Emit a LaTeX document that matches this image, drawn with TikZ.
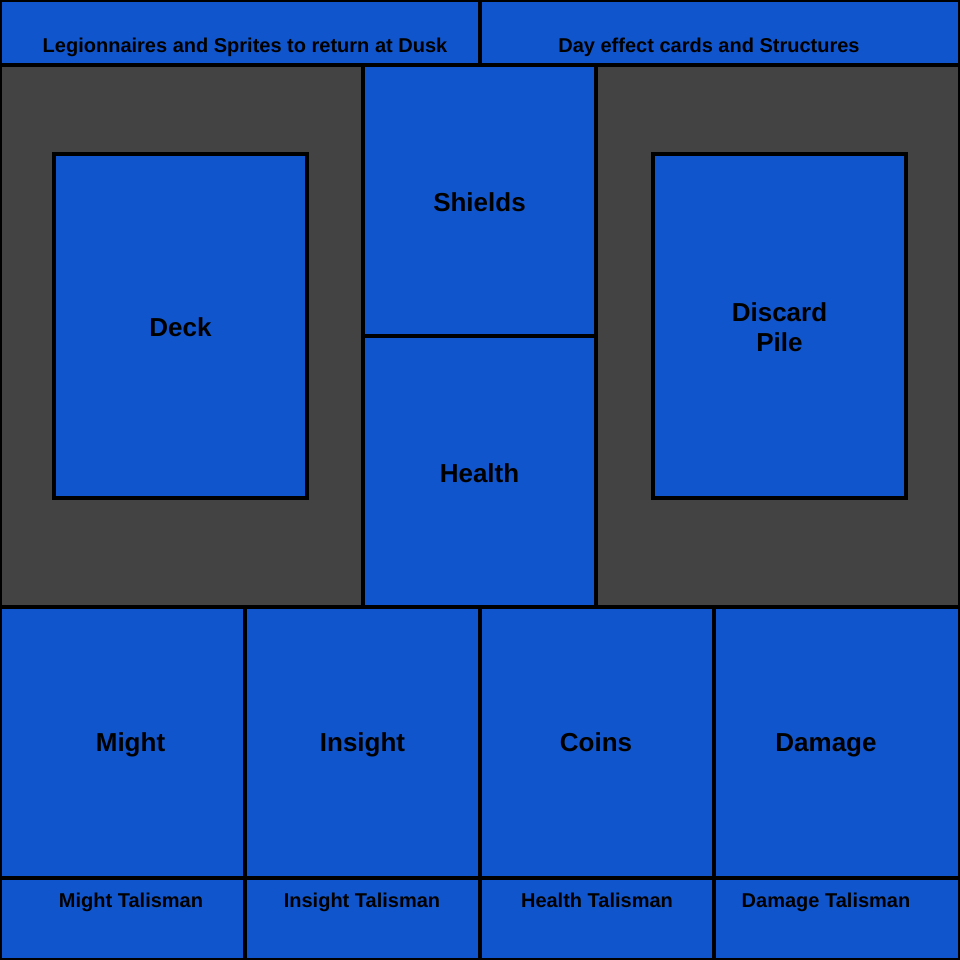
\documentclass[tikz,border=0pt]{standalone}
\usepackage{fontspec}
\setmainfont{Liberation Sans}
\usetikzlibrary{positioning}
\definecolor{boardblue}{HTML}{1155CC}
\definecolor{boardgray}{HTML}{434343}
\tikzset{
  zone/.style={
    draw=black,
    line width=3.2pt,
    fill=boardblue,
    anchor=north west,
    inner sep=0pt,
    outer sep=0pt
  },
  mat/.style={
    zone,
    fill=boardgray
  },
  big/.style={
    text=black,
    font=\bfseries\fontsize{26}{30}\selectfont,
    align=center
  },
  even/.style={
    text height=0.73em,
    text depth=0.21em
  },
  small/.style={
    even,
    text=black,
    font=\bfseries\fontsize{20}{24}\selectfont
  }
}
\begin{document}
\begin{tikzpicture}[x=1pt,y=-1pt]
  \useasboundingbox (0,0) rectangle (960,960);

  % top strip
  \node[zone, minimum width=480pt, minimum height=65pt] (legion) at (0,0) {};
  \node[zone, minimum width=480pt, minimum height=65pt] (dayfx) at (480,0) {};
  \node[small] (legiontext) at (245,50) {Legionnaires and Sprites to return at Dusk};
  \node[small] (dayfxtext) at (709,50) {Day effect cards and Structures};

  % play mats
  \node[mat, minimum width=363pt, minimum height=542pt] (leftmat) at (0,65) {};
  \node[mat, minimum width=364pt, minimum height=542pt] (rightmat) at (596,65) {};
  \node[zone, minimum width=253pt, minimum height=344pt] (deck) at (54,154) {};
  \node[zone, minimum width=253pt, minimum height=344pt] (discard) at (653,154) {};
  \node[big] (decktext) at ([yshift=-1pt]deck.center) {Deck};
  \node[big] (discardtext) at ([yshift=-1pt]discard.center) {Discard\\Pile};

  % centre column
  \node[zone, minimum width=233pt, minimum height=271pt] (shields) at (363,65) {};
  \node[zone, minimum width=233pt, minimum height=271pt] (health) at (363,336) {};
  \node[big] (shieldstext) at ([yshift=-1.5pt]shields.center) {Shields};
  \node[big] (healthtext) at ([yshift=-1.5pt]health.center) {Health};

  % resources
  \node[zone, minimum width=245pt, minimum height=271pt] (might) at (0,607) {};
  \node[zone, minimum width=235pt, minimum height=271pt] (insight) at (245,607) {};
  \node[zone, minimum width=234pt, minimum height=271pt] (coins) at (480,607) {};
  \node[zone, minimum width=246pt, minimum height=271pt] (damage) at (714,607) {};
  \node[big, even] (mighttext) at ([xshift=8pt,yshift=-6pt]might.center) {Might};
  \node[big, even] (insighttext) at ([yshift=-6pt]insight.center) {Insight};
  \node[big, even] (coinstext) at ([xshift=-1pt,yshift=-6pt]coins.center) {Coins};
  \node[big, even] (damagetext) at ([xshift=-11pt,yshift=-6pt]damage.center) {Damage};

  % talismans
  \node[zone, minimum width=245pt, minimum height=82pt] (mighttal) at (0,878) {};
  \node[zone, minimum width=235pt, minimum height=82pt] (insighttal) at (245,878) {};
  \node[zone, minimum width=234pt, minimum height=82pt] (healthtal) at (480,878) {};
  \node[zone, minimum width=246pt, minimum height=82pt] (damagetal) at (714,878) {};
  \node[small] (mighttaltext) at (131,905) {Might Talisman};
  \node[small] (insighttaltext) at (362,905) {Insight Talisman};
  \node[small] (healthtaltext) at (597,905) {Health Talisman};
  \node[small] (damagetaltext) at (826,905) {Damage Talisman};
\end{tikzpicture}
\end{document}
